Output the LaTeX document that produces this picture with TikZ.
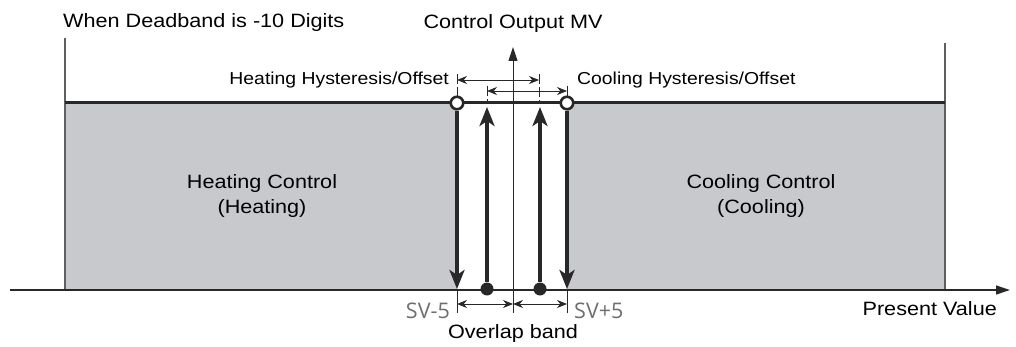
\documentclass[tikz,border=0pt]{standalone}
\usepackage{fontspec}
\setmainfont[FakeStretch=1.12]{Liberation Sans}
\newfontfamily\svfont{Open Sans}
\usepackage{xcolor}
\usetikzlibrary{arrows.meta}

\definecolor{bandgray}{RGB}{200,201,205}
\definecolor{linegray}{RGB}{40,40,40}
\definecolor{framegray}{RGB}{95,95,95}
\definecolor{svgray}{RGB}{110,110,110}

\begin{document}
\begin{tikzpicture}[x=1pt, y=-1pt,
    lbl/.style={font=\fontsize{19.3}{25}\selectfont, inner sep=0pt, align=center},
    small/.style={font=\fontsize{17.3}{20}\selectfont, inner sep=0pt},
    svlbl/.style={font=\svfont\fontsize{21.5}{24}\selectfont, text=svgray, inner sep=0pt},
    hyst/.style={line width=4pt, linegray, -{Stealth[length=19pt, width=15pt, inset=5pt]}},
    dimarr/.style={line width=0.9pt, linegray, {Stealth[length=10pt, width=8pt]}-{Stealth[length=10pt, width=8pt]}},
    tick/.style={line width=0.9pt, linegray},
    hole/.style={circle, draw=linegray, fill=white, line width=2.6pt, minimum size=12.5pt, inner sep=0pt},
    dot/.style={circle, fill=linegray, minimum size=13pt, inner sep=0pt}]
    \useasboundingbox (0,0) rectangle (1016,347);

    % Output bands
    \fill[bandgray] (65,103) rectangle (457,290);
    \fill[bandgray] (567,103) rectangle (945,290);
    \draw[framegray, line width=1.2pt] (65,38) -- (65,290);
    \draw[framegray, line width=1.2pt] (945,43) -- (945,290);
    \draw[linegray, line width=3pt] (65,103) -- (945,103);

    % Axes
    \coordinate (xs) at (10,290);
    \coordinate (xe) at (1010,290);
    \coordinate (org) at (513,290);
    \coordinate (mv) at (513,47);
    \draw[linegray, line width=1.2pt, -{Triangle[length=14pt, width=9pt]}] (xs) -- (xe);
    \draw[linegray, line width=1pt, -{Triangle[length=14pt, width=9pt]}] (org) -- (mv);

    % Switching points
    \node[hole] (hon) at (457,103) {};
    \node[hole] (con) at (567,103) {};
    \coordinate (hoff) at (457,289);
    \coordinate (coff) at (567,289);
    \node[dot] (hdot) at (487,289) {};
    \node[dot] (cdot) at (540,289) {};
    \coordinate (htop) at (487,107);
    \coordinate (ctop) at (540,107);
    \draw[hyst] (hon) -- (hoff);
    \draw[hyst] (con) -- (coff);
    \draw[hyst] (hdot) -- (htop);
    \draw[hyst] (cdot) -- (ctop);

    % Hysteresis widths
    \draw[tick, dashed, dash pattern=on 10pt off 3pt] (457,74) -- (457,97);
    \draw[tick, dashed, dash pattern=on 10pt off 3pt] (539,74) -- (539,103);
    \draw[tick, dashed, dash pattern=on 10pt off 3pt] (487,86) -- (487,103);
    \draw[tick, dashed, dash pattern=on 10pt off 3pt] (567,86) -- (567,97);
    \coordinate (hl) at (457,80);
    \coordinate (hr) at (539,80);
    \coordinate (cl) at (487,91);
    \coordinate (cr) at (567,91);
    \draw[dimarr] (hl) -- (hr);
    \draw[dimarr] (cl) -- (cr);

    % Overlap band
    \foreach \x in {457, 513, 567}
        \draw[tick] (\x,290) -- (\x,313);
    \coordinate (ol) at (457,304);
    \coordinate (om) at (513,304);
    \coordinate (or) at (567,304);
    \draw[dimarr] (ol) -- (om);
    \draw[dimarr] (om) -- (or);

    % Labels
    \node[lbl, anchor=base west] (title) at (63,28) {When Deadband is -10 Digits};
    \node[lbl, anchor=base] (mvlbl) at (513,29) {Control Output MV};
    \node[small, anchor=base east] (hhyst) at (449,85) {Heating Hysteresis/Offset};
    \node[small, anchor=base west] (chyst) at (577,85) {Cooling Hysteresis/Offset};
    \node[lbl] (heat) at (262,196) {Heating Control\\(Heating)};
    \node[lbl] (cool) at (761,196) {Cooling Control\\(Cooling)};
    \node[lbl, anchor=base east] (pv) at (997,315) {Present Value};
    \node[svlbl, anchor=base east] (svlo) at (450,318) {SV-5};
    \node[svlbl, anchor=base west] (svhi) at (574,318) {SV+5};
    \node[lbl, anchor=base] (olbl) at (513,338) {Overlap band};
\end{tikzpicture}
\end{document}
